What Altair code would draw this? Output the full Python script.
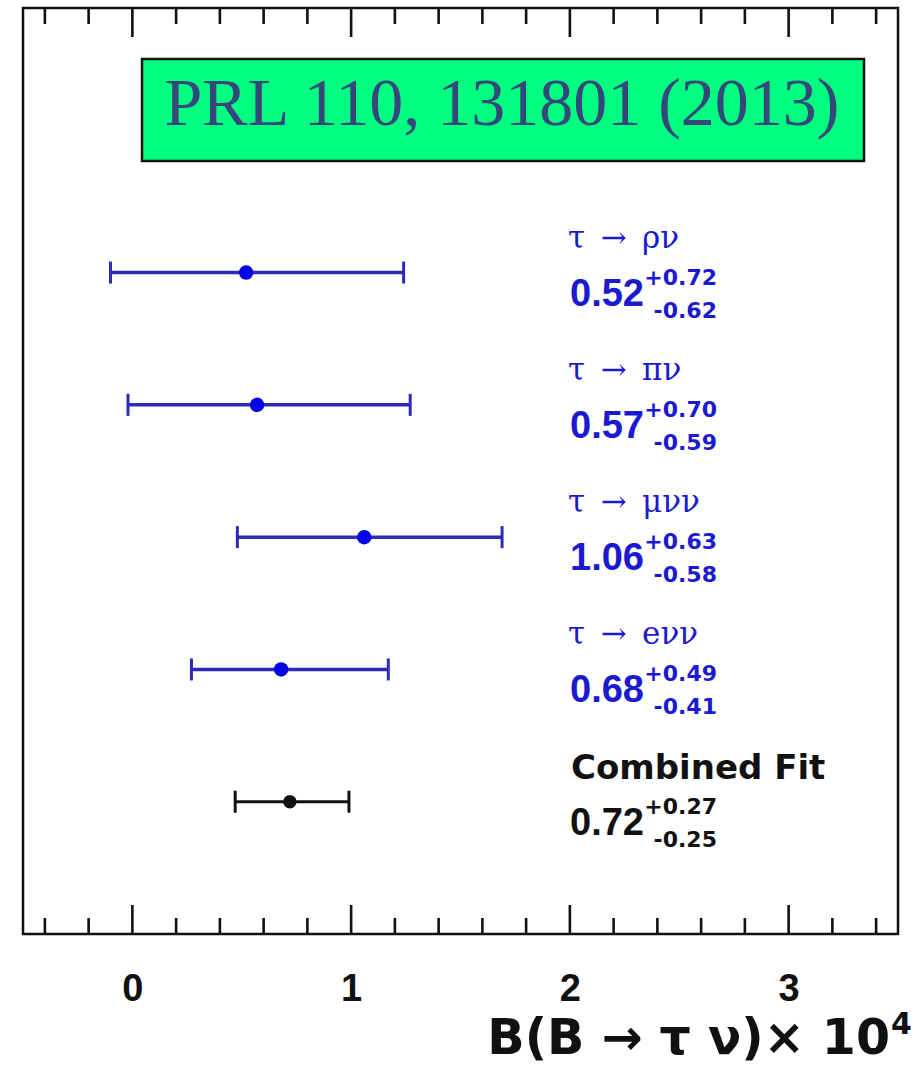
import altair as alt
import pandas as pd

# Individual tau decay channels
modes = ["τ\u2002→\u2002ρν", "τ\u2002→\u2002πν", "τ\u2002→\u2002μνν", "τ\u2002→\u2002eνν"]
mode_central = [0.52, 0.57, 1.06, 0.68]
mode_up = [0.72, 0.70, 0.63, 0.49]
mode_down = [0.62, 0.59, 0.58, 0.41]

# Combined result
combined_label = "Combined Fit"
combined_central = 0.72
combined_up = 0.27
combined_down = 0.25

# Frame ticks
major_ticks = [0, 1, 2, 3]
minor_ticks = [-0.4, -0.2, 0.2, 0.4, 0.6, 0.8, 1.2, 1.4, 1.6, 1.8,
               2.2, 2.4, 2.6, 2.8, 3.2, 3.4]

reference = "PRL 110, 131801 (2013)"
x_title = "B(B → τ ν)× 10"
x_title_power = "4"

W, H = 875, 926
BLUE_BAR = "#2B2BB8"
BLUE_DOT = "#0505E6"
BLUE_TXT = "#1A1AD0"
BLACK = "#111111"


def rows(labels, c, up, dn, start):
    return pd.DataFrame({
        "row": [start + i for i in range(len(labels))],
        "label": labels,
        "c": c,
        "lo": [a - b for a, b in zip(c, dn)],
        "hi": [a + b for a, b in zip(c, up)],
        "main": [f"{a:.2f}" for a in c],
        "sup": [f"+{a:.2f}" for a in up],
        "sub": [f"-{a:.2f}" for a in dn],
    })


df_modes = rows(modes, mode_central, mode_up, mode_down, 0)
df_comb = rows([combined_label], [combined_central], [combined_up], [combined_down], len(modes))

xscale = alt.Scale(domain=[-0.5, 3.5], nice=False, zero=False)
yscale = alt.Scale(domain=[-2, 5], nice=False, zero=False, reverse=True)
x_axis = alt.Axis(values=major_ticks, ticks=False, domain=False, grid=False,
                  labelFont="Liberation Sans", labelFontWeight="bold",
                  labelFontSize=38, labelColor=BLACK, labelPadding=66,
                  labelBaseline="alphabetic", title=None, format="d")


def X(f):
    return alt.X(f, scale=xscale, axis=x_axis)


def Y(f):
    return alt.Y(f, scale=yscale, axis=None)


df_major = pd.DataFrame({"t": major_ticks})
df_minor = pd.DataFrame({"t": minor_ticks})

tick_layers = []
for d, ln in ((df_major, 29), (df_minor, 16)):
    base = alt.Chart(d).mark_rule(color=BLACK, strokeWidth=2.6)
    tick_layers.append(base.encode(x=X("t:Q"), y=alt.value(0), y2=alt.value(ln)))
    tick_layers.append(base.encode(x=X("t:Q"), y=alt.value(H), y2=alt.value(H - ln)))


def error_bar(d, bar_color, dot_color, width, dot_size):
    line = alt.Chart(d).mark_rule(color=bar_color, strokeWidth=width).encode(
        x=X("lo:Q"), x2="hi:Q", y=Y("row:Q"))
    caps = []
    for f in ("lo:Q", "hi:Q"):
        caps.append(alt.Chart(d).mark_tick(color=bar_color, orient="vertical", size=22,
                                           thickness=3, opacity=1).encode(
            x=X(f), y=Y("row:Q")))
    dot = alt.Chart(d).mark_circle(color=dot_color, opacity=1, size=dot_size).encode(
        x=X("c:Q"), y=Y("row:Q"))
    return [line] + caps + [dot]


def value_text(d, color):
    main = alt.Chart(d).mark_text(align="left", baseline="alphabetic", dy=33,
                                  font="Liberation Sans", fontWeight="bold",
                                  fontSize=38, color=color).encode(
        x=alt.value(547), y=Y("row:Q"), text="main:N")
    sup = alt.Chart(d).mark_text(align="right", baseline="alphabetic", dy=12,
                                 font="DejaVu Sans", fontWeight="bold",
                                 fontSize=22, color=color).encode(
        x=alt.value(694), y=Y("row:Q"), text="sup:N")
    sub = alt.Chart(d).mark_text(align="right", baseline="alphabetic", dy=45,
                                 font="DejaVu Sans", fontWeight="bold",
                                 fontSize=22, color=color).encode(
        x=alt.value(694), y=Y("row:Q"), text="sub:N")
    return [main, sup, sub]


mode_titles = alt.Chart(df_modes).mark_text(
    align="left", baseline="alphabetic", dy=-25, font="DejaVu Serif",
    fontSize=31, color=BLUE_TXT).encode(x=alt.value(545), y=Y("row:Q"), text="label:N")
comb_title = alt.Chart(df_comb).mark_text(
    align="left", baseline="alphabetic", dy=-23, font="DejaVu Sans",
    fontWeight="bold", fontSize=34, color=BLACK).encode(
    x=alt.value(548), y=Y("row:Q"), text="label:N")

one = pd.DataFrame({"k": [0]})
ref_box = alt.Chart(one).mark_rect(fill="#00FF80", stroke=BLACK, strokeWidth=2.5).encode(
    x=alt.value(119), x2=alt.value(841), y=alt.value(51), y2=alt.value(153))
ref_text = alt.Chart(one).mark_text(
    align="center", baseline="alphabetic", font="Liberation Serif", fontSize=68,
    color="#36477C").encode(x=alt.value(479), y=alt.value(117), text=alt.value(reference))

title_main = alt.Chart(one).mark_text(
    align="right", baseline="alphabetic", font="DejaVu Sans", fontWeight="bold",
    fontSize=49, color=BLACK).encode(x=alt.value(867), y=alt.value(1046),
                                     text=alt.value(x_title))
title_pow = alt.Chart(one).mark_text(
    align="left", baseline="alphabetic", font="DejaVu Sans", fontWeight="bold",
    fontSize=30, color=BLACK).encode(x=alt.value(868), y=alt.value(1026),
                                     text=alt.value(x_title_power))

layers = (tick_layers
          + [ref_box, ref_text]
          + error_bar(df_modes, BLUE_BAR, BLUE_DOT, 3.5, 210)
          + error_bar(df_comb, BLACK, BLACK, 3, 180)
          + [mode_titles, comb_title]
          + value_text(df_modes, BLUE_TXT)
          + value_text(df_comb, BLACK)
          + [title_main, title_pow])

chart = alt.layer(*layers).properties(
    width=W, height=H,
    padding={"left": 23, "top": 6, "right": 0, "bottom": 5},
    background="white",
).configure_view(stroke=BLACK, strokeWidth=2.5)

chart.save("out.html", embed_options={"renderer": "svg", "actions": False})
